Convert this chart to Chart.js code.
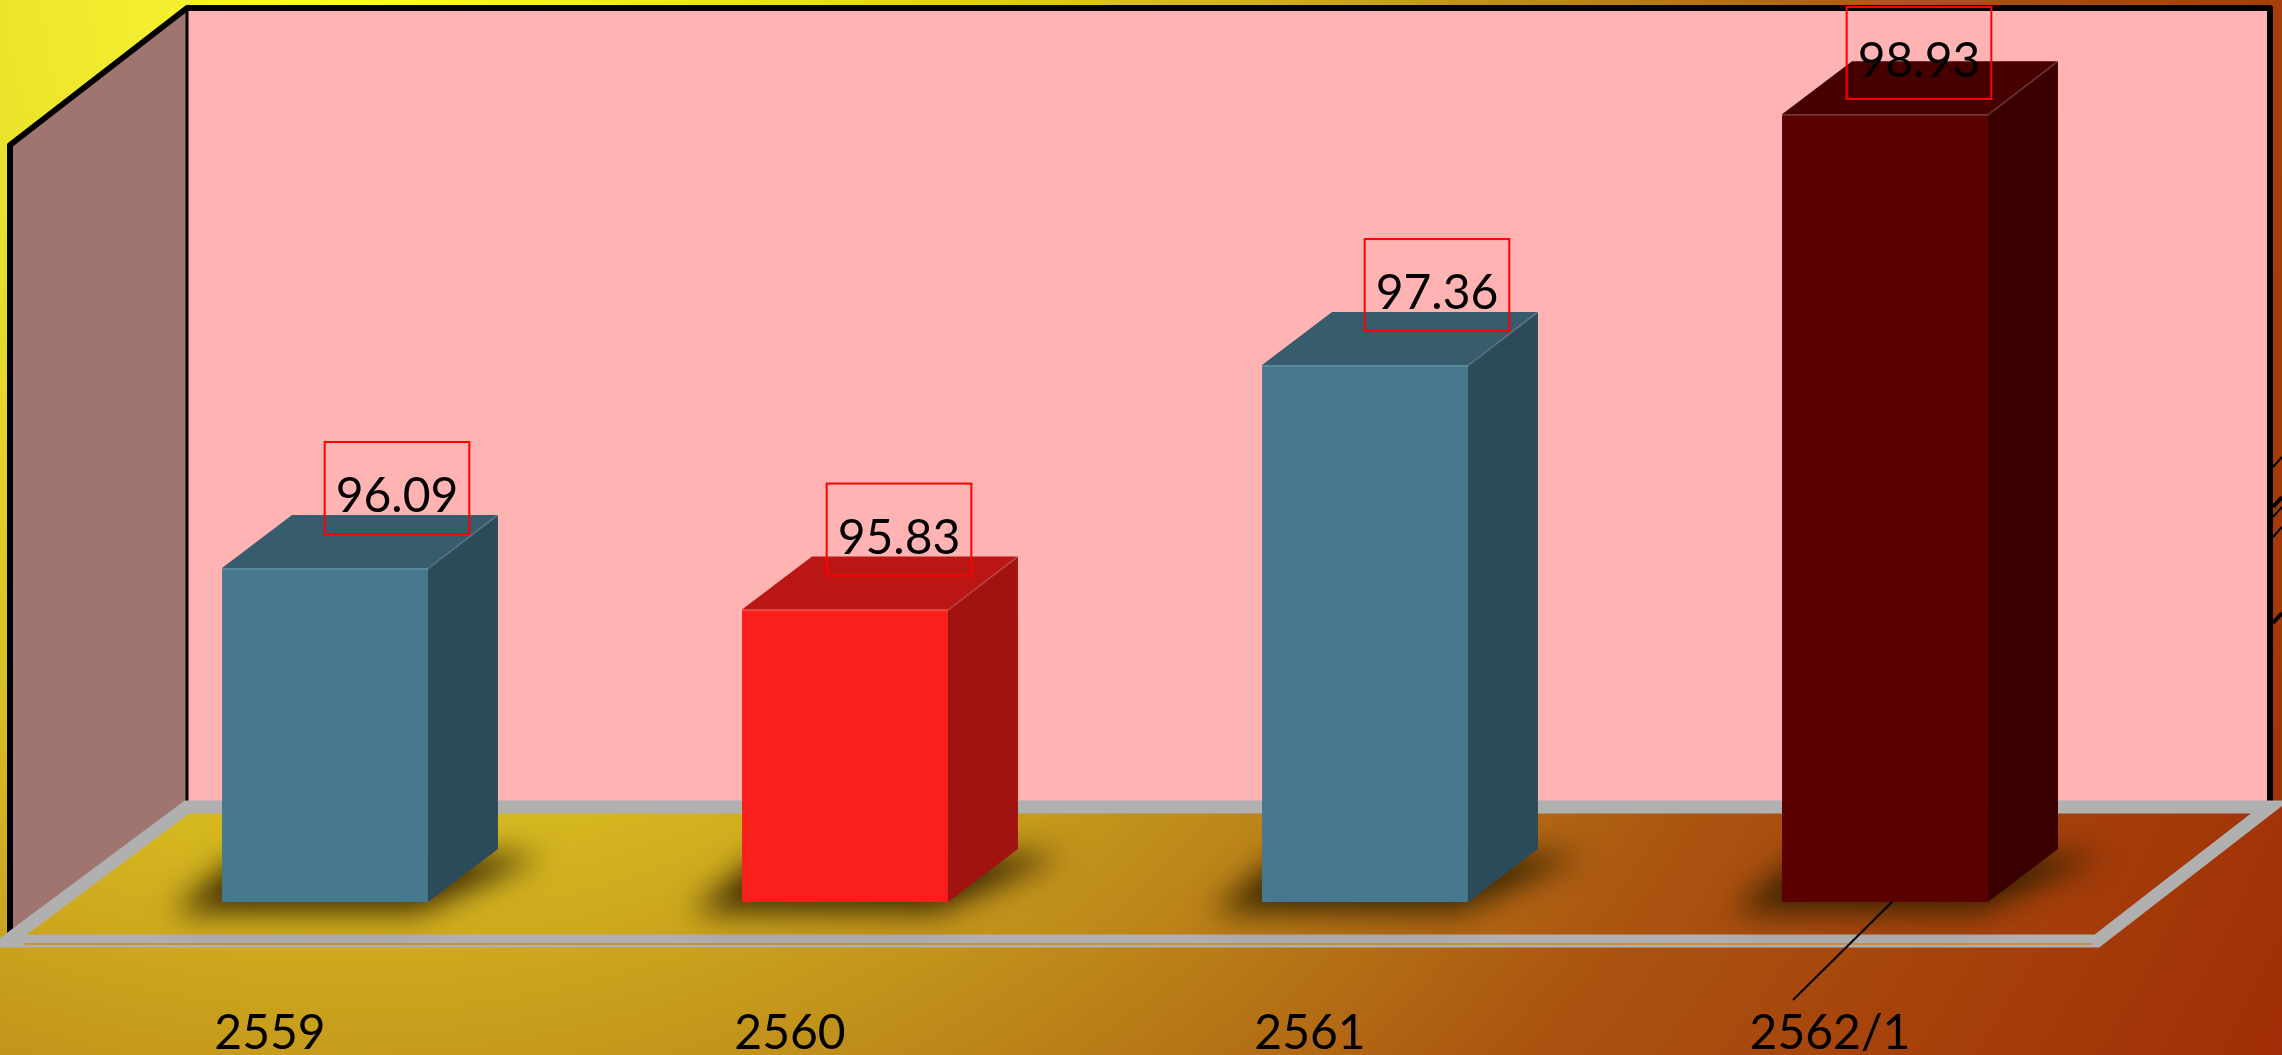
<!DOCTYPE html>
<html>
<head>
<meta charset="utf-8">
<script src="https://cdn.jsdelivr.net/npm/chart.js@4.4.1/dist/chart.umd.min.js"></script>
<style>
  html, body { margin: 0; padding: 0; background: #000; }
  #wrap { width: 2282px; height: 1055px; position: relative; }
</style>
</head>
<body>
<div id="wrap"><canvas id="c"></canvas></div>
<script>
// ── data ──
const categories = ['2559', '2560', '2561', '2562/1'];
const values     = [96.09, 95.83, 97.36, 98.93];
const yMin = 94;
const yMax = 99;

// ── bar face colours (front / top / side) ──
const frontColors = ['#46798d', '#f91f1b', '#46798d', '#5a0100'];
const topColors   = ['#365c6d', '#ba1714', '#365c6d', '#470000'];
const sideColors  = ['#2c4b5a', '#a01311', '#2c4b5a', '#3a0000'];
// value boxes were placed by hand in the original
const labelNudge  = [72, 54, 72, 34];

const FONT  = 'Lato, "Noto Sans", sans-serif';
const DEPTH = { x: 70, y: -53 };      // bar depth
const WALL  = { x: 180, y: -134 };    // room depth

function barBox(chart, bar) {
  const p = bar.getProps(['x', 'y', 'base', 'width'], true);
  p.base = Math.min(p.base, chart.scales.y.getPixelForValue(yMin));
  return p;
}

// walls, floor, background
const scenePlugin = {
  id: 'scene',
  beforeDraw(chart) {
    const { ctx, chartArea: a } = chart;
    const W = chart.width, H = chart.height;

    ctx.save();
    const g = ctx.createRadialGradient(350, 0, 0, 350, 0, 2250);
    g.addColorStop(0.00, '#fcfb32');
    g.addColorStop(0.20, '#e8de2a');
    g.addColorStop(0.38, '#d4b620');
    g.addColorStop(0.52, '#bf8c1a');
    g.addColorStop(0.70, '#aa5410');
    g.addColorStop(1.00, '#a02a05');
    ctx.fillStyle = g;
    ctx.fillRect(0, 0, W, H);

    // room corners
    const fl = a.left - 58, fr = a.right - 48;   // front floor edge x
    const fy = a.bottom + 39;                    // front floor edge y
    const bl = fl + WALL.x, br = fr + WALL.x - 7;
    const by = fy + WALL.y;
    const top = 8;

    // left wall
    ctx.beginPath();
    ctx.moveTo(fl + 3, top - WALL.y + 3);
    ctx.lineTo(bl, top);
    ctx.lineTo(bl, by);
    ctx.lineTo(fl + 3, fy);
    ctx.closePath();
    ctx.fillStyle = '#a07570';
    ctx.fill();

    // back wall
    ctx.fillStyle = '#ffb3b3';
    ctx.fillRect(bl, top, br - bl, by - top);

    // outlines
    ctx.strokeStyle = '#000';
    ctx.lineJoin = 'round';
    ctx.lineWidth = 6;
    ctx.beginPath();
    ctx.moveTo(fl + 3, fy - 4);
    ctx.lineTo(fl + 3, top - WALL.y + 3);
    ctx.lineTo(bl, top);
    ctx.lineTo(br, top);
    ctx.lineTo(br, by);
    ctx.stroke();
    ctx.lineWidth = 3;
    ctx.beginPath();
    ctx.moveTo(bl, top);
    ctx.lineTo(bl, by);
    ctx.stroke();

    // odd strokes at the right edge
    [467, 507, 517, 537, 623].forEach((y, i) => {
      ctx.lineWidth = (i === 1 || i === 4) ? 4 : 2;
      ctx.beginPath();
      ctx.moveTo(br + 3, y);
      ctx.lineTo(W, y - 10);
      ctx.stroke();
    });

    // floor outline
    ctx.strokeStyle = '#b0b0b0';
    ctx.lineWidth = 13;
    ctx.lineJoin = 'miter';
    ctx.beginPath();
    ctx.moveTo(fl, fy);
    ctx.lineTo(fr, fy);
    ctx.lineTo(br, by);
    ctx.lineTo(bl, by);
    ctx.closePath();
    ctx.stroke();
    ctx.strokeStyle = 'rgba(205,130,30,0.9)';
    ctx.lineWidth = 1.5;
    ctx.beginPath();
    ctx.moveTo(fl + 18, fy + 3);
    ctx.lineTo(fr - 4, fy + 3);
    ctx.stroke();
    ctx.restore();
  },

  beforeDatasetsDraw(chart) {
    const { ctx } = chart;
    ctx.save();
    ctx.filter = 'blur(15px)';
    ctx.fillStyle = 'rgba(45,30,0,0.9)';
    chart.getDatasetMeta(0).data.forEach(bar => {
      const { x, base, width } = barBox(chart, bar);
      const l = x - width / 2 - 50, r = x + width / 2 - 10;
      ctx.beginPath();
      ctx.moveTo(l, base + 10);
      ctx.lineTo(r, base + 10);
      ctx.lineTo(r + DEPTH.x + 55, base + DEPTH.y + 6);
      ctx.lineTo(l + DEPTH.x, base + DEPTH.y + 6);
      ctx.closePath();
      ctx.fill();
    });
    ctx.restore();
  },

  afterDatasetsDraw(chart) {
    const { ctx } = chart;
    const meta = chart.getDatasetMeta(0);
    ctx.save();
    meta.data.forEach((bar, i) => {
      const { x, y, base, width } = barBox(chart, bar);
      const l = x - width / 2, r = x + width / 2;

      // top face
      ctx.beginPath();
      ctx.moveTo(l, y);
      ctx.lineTo(r, y);
      ctx.lineTo(r + DEPTH.x, y + DEPTH.y);
      ctx.lineTo(l + DEPTH.x, y + DEPTH.y);
      ctx.closePath();
      ctx.fillStyle = topColors[i];
      ctx.fill();

      // side face
      ctx.beginPath();
      ctx.moveTo(r, y);
      ctx.lineTo(r + DEPTH.x, y + DEPTH.y);
      ctx.lineTo(r + DEPTH.x, base + DEPTH.y);
      ctx.lineTo(r, base);
      ctx.closePath();
      ctx.fillStyle = sideColors[i];
      ctx.fill();

      // soft edge highlight
      ctx.strokeStyle = 'rgba(255,255,255,0.12)';
      ctx.lineWidth = 2;
      ctx.beginPath();
      ctx.moveTo(l, y + 1);
      ctx.lineTo(r, y + 1);
      ctx.lineTo(r + DEPTH.x, y + DEPTH.y);
      ctx.stroke();
    });

    // value boxes
    ctx.font = '48px ' + FONT;
    ctx.textAlign = 'center';
    ctx.textBaseline = 'alphabetic';
    meta.data.forEach((bar, i) => {
      const { x, y } = barBox(chart, bar);
      const txt = values[i].toFixed(2);
      const tw = ctx.measureText(txt).width;
      const bw = tw + 22, bh = 92;
      const cx = x + labelNudge[i];
      let bottom = y - 34;
      if (bottom - bh < 7) bottom = 7 + bh;
      ctx.strokeStyle = '#ff0000';
      ctx.lineWidth = 2;
      ctx.strokeRect(cx - bw / 2, bottom - bh, bw, bh);
      ctx.fillStyle = '#000';
      ctx.fillText(txt, cx, bottom - 22);
    });

    // leader line of the last category label
    const last = barBox(chart, meta.data[meta.data.length - 1]);
    ctx.strokeStyle = '#000';
    ctx.lineWidth = 2;
    ctx.beginPath();
    ctx.moveTo(last.x + 7, last.base);
    ctx.lineTo(last.x - 92, last.base + 98);
    ctx.stroke();
    ctx.restore();
  }
};

new Chart(document.getElementById('c'), {
  type: 'bar',
  data: {
    labels: categories,
    datasets: [{
      data: values,
      backgroundColor: frontColors,
      borderWidth: 0,
      categoryPercentage: 1,
      barPercentage: 0.396,
    }]
  },
  options: {
    responsive: true,
    maintainAspectRatio: false,
    animation: false,
    layout: { padding: { left: 65, right: 137, top: 103, bottom: 0 } },
    plugins: { legend: { display: false }, tooltip: { enabled: false } },
    scales: {
      x: {
        offset: true,
        grid: { display: false, drawTicks: false },
        border: { display: false },
        ticks: {
          color: '#000',
          font: { family: FONT, size: 48, lineHeight: 0.8 },
          padding: 112,
          labelOffset: -55,
          maxRotation: 0,
        },
        afterFit: scale => { scale.height = 153; },
      },
      y: {
        display: false,
        min: yMin,
        max: yMax,
      }
    }
  },
  plugins: [scenePlugin]
});
</script>
</body>
</html>
